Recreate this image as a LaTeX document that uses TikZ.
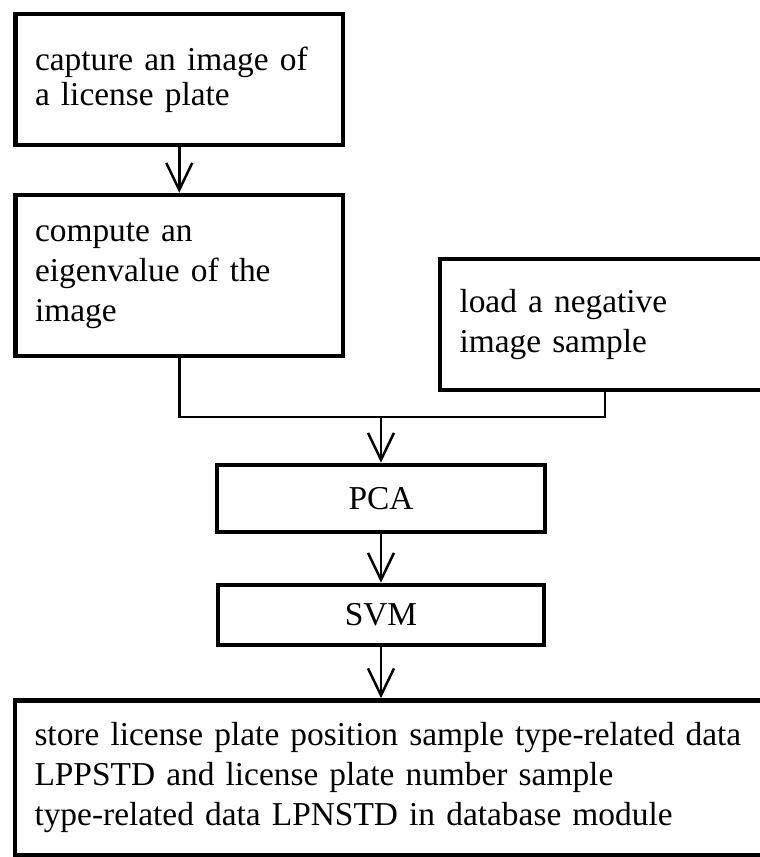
\documentclass[tikz,border=0pt]{standalone}
\usepackage{fontspec}
\setmainfont{Liberation Serif}
\usetikzlibrary{arrows.meta}
\begin{document}
\begin{tikzpicture}[x=1pt,y=-1pt,
  box/.style={draw=black, line width=4.5pt, inner ysep=0pt, inner xsep=19.5pt,
    align=left, font=\fontsize{33.4}{40}\selectfont},
  cbox/.style={draw=black, line width=4.5pt, inner sep=0pt, align=center,
    font=\fontsize{33.4}{40}\selectfont},
  conn/.style={draw=black, line width=2.5pt},
  arr/.style={conn, -{Straight Barb[length=27pt,width=26pt,line width=2.5pt]}}]
\clip (0,0) rectangle (760,857);
\useasboundingbox (0,0) rectangle (760,857);
\node[box, minimum width=327.5pt, minimum height=131pt, text width=288.5pt,
  font=\fontsize{33.4}{35}\selectfont] (b1) at (179.25,79.5)
  {capture an image of\\a license plate};
\node[box, minimum width=327.5pt, minimum height=161pt, text width=288.5pt] (b2) at (179.25,275.5)
  {compute an\\eigenvalue of the\\image};
\node[box, minimum width=330pt, minimum height=131pt, text width=291pt] (b3) at (605,324.5)
  {load a negative\\image sample};
\node[cbox, minimum width=328pt, minimum height=67pt] (pca) at (381,498.5) {PCA};
\node[cbox, minimum width=326pt, minimum height=60pt] (svm) at (381,615) {SVM};
\node[box, minimum width=760pt, minimum height=155pt, text width=721pt] (db) at (395,778)
  {store license plate position sample type-related data\\LPPSTD and license plate number sample\\type-related data LPNSTD in database module};
\coordinate (j) at (381,417);
\draw[arr] (b1) -- (b2);
\draw[conn] (b2.south) |- (j);
\draw[conn] (b3.south) |- (j);
\draw[arr] (j) -- (pca.north);
\draw[arr] (pca) -- (svm);
\draw[arr] (svm.south) -- (svm.south |- db.north);
\end{tikzpicture}
\end{document}
